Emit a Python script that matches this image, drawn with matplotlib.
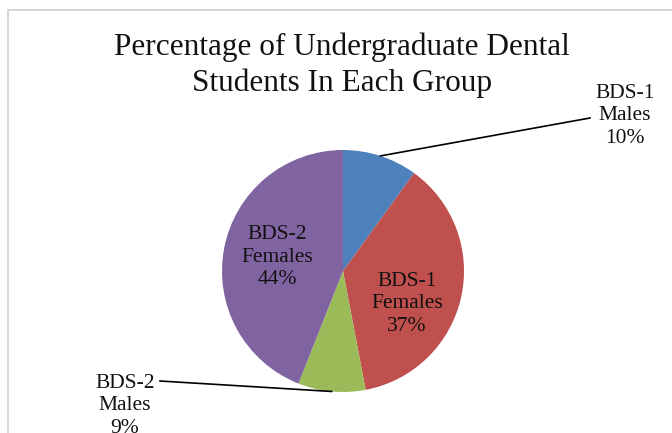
import matplotlib.pyplot as plt
import numpy as np
from matplotlib.patches import Rectangle

plt.rcParams['font.family'] = ['Liberation Serif', 'DejaVu Serif']

groups = ['BDS-1 Males', 'BDS-1 Females', 'BDS-2 Males', 'BDS-2 Females']
label_lines = ['BDS-1\nMales\n10%', 'BDS-1\nFemales\n37%', 'BDS-2\nMales\n9%', 'BDS-2\nFemales\n44%']
shares = [10, 37, 9, 44]
colors = ['#4F81BD', '#C0504D', '#9BBB59', '#8064A2']

W, H = 672, 433
fig = plt.figure(figsize=(W / 100, H / 100), dpi=100)

# chart frame (only top and left edges are visible)
fig.patches.append(Rectangle((8 / W, -0.1), 1.2, 1 - 10 / H + 0.1, transform=fig.transFigure,
                             fill=False, edgecolor='#d0d0d0', linewidth=1.2))

cx, cy, r = 343, 271, 121
ax = fig.add_axes([(cx - r) / W, (H - cy - r) / H, 2 * r / W, 2 * r / H])
wedges, _ = ax.pie(shares, colors=colors, startangle=90, counterclock=False,
                   radius=1, wedgeprops=dict(linewidth=0))
ax.set_xlim(-1, 1)
ax.set_ylim(-1, 1)
ax.axis('off')


def px(x, y):
    return ((x - cx) / r, (cy - y) / r)


# label positions (pixel centres) and leader line starts
label_pos = [px(625, 116), px(407, 304), px(125, 406), px(277, 257)]
leader_start = {0: px(590, 118), 2: px(160, 381)}

for i, w in enumerate(wedges):
    tx, ty = label_pos[i]
    ax.text(tx, ty, label_lines[i], ha='center', va='center', fontsize=15.5,
            linespacing=1.22, color='#111111', clip_on=False)
    if i in leader_start:
        ang = np.deg2rad((w.theta1 + w.theta2) / 2)
        ex, ey = np.cos(ang), np.sin(ang)
        sx, sy = leader_start[i]
        ax.plot([sx, ex], [sy, ey], color='black', linewidth=1.2, clip_on=False)

fig.text(342 / W, 1 - 65 / H, 'Percentage of Undergraduate Dental\nStudents In Each Group',
         ha='center', va='center', fontsize=22.5, linespacing=1.3, color='#111111')

fig.savefig('out.png', dpi=100)
